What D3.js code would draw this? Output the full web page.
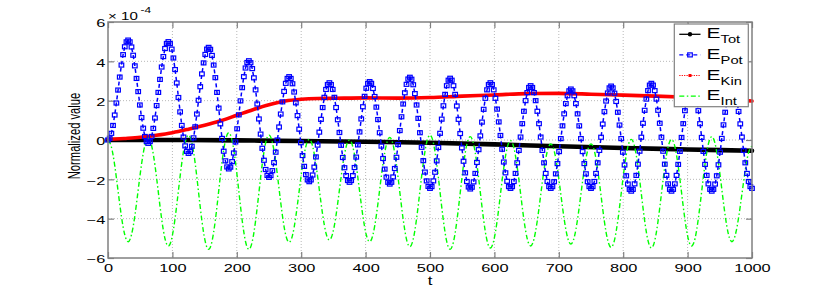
<!DOCTYPE html>
<html>
<head>
<meta charset="utf-8">
<script src="https://cdn.jsdelivr.net/npm/d3@7"></script>
<style>
  body { margin: 0; background: #fff; }
  svg { display: block; }
</style>
</head>
<body>
<script>
// ---- data (values in units of 1e-4) ----
var xTicks = [0, 100, 200, 300, 400, 500, 600, 700, 800, 900, 1000];
var yTicks = [-6, -4, -2, 0, 2, 4, 6];

// E_Tot, sampled coarsely
var tTot = [0, 100, 200, 300, 400, 500, 600, 700, 800, 900, 1000];
var eTot = [0, 0, -0.02, -0.05, -0.09, -0.14, -0.22, -0.32, -0.41, -0.48, -0.55];

// E_Kin
var tKin = [0, 25, 50, 75, 100, 125, 150, 175, 200, 225, 250, 275, 300, 325, 350, 400, 450, 500, 550, 600, 650, 700, 750, 800, 850, 900, 950, 1000];
var eKin = [0.03, 0.08, 0.14, 0.24, 0.37, 0.55, 0.75, 0.98, 1.26, 1.54, 1.79, 1.98, 2.07, 2.11, 2.12, 2.14, 2.13, 2.16, 2.23, 2.29, 2.36, 2.37, 2.33, 2.28, 2.23, 2.17, 2.08, 1.98];

// E_Pot, one row per oscillation (equally spaced in t from 0 to 1000)
var ePot = [
  0,0.09,0.34,0.74,1.27,1.88,2.54,3.20,3.81,4.34,4.74,4.99,5.08,4.99,4.73,4.31,3.77,3.13,2.46,1.78,1.14,0.60,0.18,-0.08,
  -0.17,-0.08,0.18,0.59,1.12,1.75,2.42,3.08,3.71,4.24,4.65,4.91,5.00,4.90,4.62,4.17,3.58,2.90,2.16,1.43,0.74,0.15,-0.30,-0.58,
  -0.68,-0.59,-0.32,0.11,0.67,1.32,2.02,2.71,3.36,3.92,4.35,4.62,4.71,4.61,4.30,3.81,3.17,2.42,1.62,0.82,0.08,-0.57,-1.06,-1.37,
  -1.47,-1.38,-1.10,-0.66,-0.10,0.57,1.28,1.99,2.66,3.22,3.66,3.94,4.03,3.93,3.63,3.16,2.55,1.83,1.07,0.30,-0.42,-1.03,-1.50,-1.80,
  -1.90,-1.81,-1.56,-1.15,-0.62,0.00,0.66,1.32,1.94,2.47,2.88,3.13,3.22,3.13,2.86,2.44,1.89,1.24,0.55,-0.14,-0.79,-1.34,-1.76,-2.03,
  -2.12,-2.03,-1.78,-1.38,-0.86,-0.26,0.40,1.05,1.65,2.17,2.57,2.82,2.91,2.82,2.57,2.17,1.65,1.03,0.38,-0.27,-0.89,-1.41,-1.81,-2.06,
  -2.15,-2.06,-1.81,-1.40,-0.87,-0.25,0.41,1.07,1.69,2.22,2.63,2.88,2.97,2.88,2.62,2.21,1.67,1.04,0.37,-0.31,-0.94,-1.48,-1.89,-2.15,
  -2.24,-2.15,-1.88,-1.45,-0.88,-0.23,0.48,1.18,1.83,2.40,2.83,3.10,3.19,3.09,2.81,2.36,1.78,1.10,0.37,-0.37,-1.05,-1.63,-2.08,-2.36,
  -2.46,-2.37,-2.08,-1.64,-1.06,-0.38,0.34,1.06,1.74,2.32,2.76,3.04,3.14,3.04,2.76,2.32,1.73,1.05,0.33,-0.40,-1.08,-1.67,-2.11,-2.39,
  -2.49,-2.40,-2.13,-1.70,-1.14,-0.49,0.21,0.91,1.56,2.12,2.55,2.82,2.91,2.82,2.55,2.12,1.57,0.92,0.23,-0.47,-1.12,-1.67,-2.10,-2.37,
  -2.46,-2.37,-2.11,-1.70,-1.16,-0.53,0.15,0.83,1.46,2.00,2.41,2.67,2.76,2.67,2.41,2.00,1.46,0.83,0.15,-0.53,-1.16,-1.70,-2.11,-2.37,
  -2.46,-2.37,-2.12,-1.72,-1.20,-0.59,0.07,0.72,1.33,1.85,2.25,2.50,2.59,2.50,2.25,1.85,1.33,0.72,0.07,-0.59,-1.20,-1.72,-2.12,-2.37,
  -2.46,-2.37,-2.11,-1.70,-1.16,-0.53,0.14,0.81,1.44,1.98,2.39,2.65,2.74,2.65,2.38,1.96,1.41,0.76,0.07,-0.62,-1.27,-1.82,-2.24,-2.51,
  -2.60,-2.51,-2.23,-1.80,-1.23,-0.57,0.14,0.85,1.51,2.08,2.51,2.79,2.88,2.79,2.51,2.08,1.51,0.85,0.14,-0.57,-1.23,-1.80,-2.23,-2.51,
  -2.60,-2.51,-2.23,-1.80,-1.24,-0.58,0.13,0.83,1.49,2.05,2.48,2.76,2.85,2.76,2.48,2.05,1.49,0.83,0.13,-0.58,-1.24,-1.80,-2.23,-2.51,
  -2.60,-2.51,-2.24,-1.82,-1.26,-0.62,0.08,0.77,1.41,1.97,2.39,2.66,2.75,2.66,2.40,1.99,1.45,0.82,0.15,-0.53,-1.16,-1.70,-2.11,-2.37,
  -2.46
];

// E_Int, one row per oscillation (equally spaced in t from 0 to 1000)
var eInt = [
  0,-0.35,-1.29,-2.59,-3.88,-4.82,-5.17,-4.82,-3.86,-2.54,-1.23,-0.26,
  0.09,-0.28,-1.28,-2.65,-4.02,-5.02,-5.39,-5.01,-3.98,-2.57,-1.16,-0.13,
  0.25,-0.14,-1.20,-2.66,-4.11,-5.17,-5.56,-5.16,-4.08,-2.60,-1.11,-0.03,
  0.37,-0.03,-1.11,-2.60,-4.08,-5.16,-5.56,-5.17,-4.11,-2.66,-1.20,-0.14,
  0.25,-0.12,-1.11,-2.48,-3.84,-4.84,-5.20,-4.85,-3.89,-2.59,-1.28,-0.32,
  0.03,-0.31,-1.25,-2.53,-3.80,-4.74,-5.08,-4.74,-3.81,-2.54,-1.27,-0.34,
  0,-0.35,-1.29,-2.59,-3.88,-4.82,-5.17,-4.81,-3.84,-2.52,-1.19,-0.23,
  0.13,-0.24,-1.26,-2.65,-4.03,-5.05,-5.42,-5.04,-4.00,-2.59,-1.17,-0.13,
  0.25,-0.14,-1.20,-2.66,-4.11,-5.17,-5.56,-5.18,-4.13,-2.70,-1.26,-0.21,
  0.17,-0.21,-1.25,-2.66,-4.08,-5.11,-5.49,-5.12,-4.13,-2.76,-1.40,-0.40,
  -0.03,-0.39,-1.37,-2.71,-4.05,-5.03,-5.39,-5.04,-4.09,-2.80,-1.50,-0.55,
  -0.20,-0.54,-1.47,-2.75,-4.02,-4.95,-5.29,-4.95,-4.02,-2.75,-1.47,-0.54,
  -0.20,-0.55,-1.52,-2.83,-4.15,-5.11,-5.46,-5.09,-4.09,-2.72,-1.34,-0.34,
  0.03,-0.34,-1.35,-2.73,-4.11,-5.12,-5.49,-5.12,-4.11,-2.73,-1.35,-0.34,
  0.03,-0.33,-1.33,-2.68,-4.04,-5.03,-5.39,-5.02,-4.00,-2.61,-1.22,-0.20,
  0.17,-0.19,-1.17,-2.50,-3.84,-4.81,-5.17,-4.84,-3.95,-2.74,-1.52,-0.63,
  -0.30
];

var legendNames = ["Tot", "Pot", "Kin", "Int"];

(function() {
  // sample times of the oscillating series
  var tPot = d3.range(ePot.length).map(function(i) { return i * 1000 / (ePot.length - 1); });
  var tInt = d3.range(eInt.length).map(function(i) { return i * 1000 / (eInt.length - 1); });

  // ---- layout ----
  var width = 830, height = 291;
  var pL = 108, pR = 752, pT = 22, pB = 258;
  var SX = 1.4; // the figure is stretched sideways, text too
  var FONT = '"Liberation Sans", Arial, Helvetica, sans-serif';
  var AX = "#808080";

  var x = d3.scaleLinear().domain([0, 1000]).range([pL, pR]);
  var y = d3.scaleLinear().domain([-6, 6]).range([pB, pT]);

  var svg = d3.select("body").append("svg")
      .attr("width", width)
      .attr("height", height)
      .style("font-family", FONT);

  // grid
  svg.append("g").selectAll("line")
      .data(xTicks.slice(1, -1))
    .join("line")
      .attr("x1", function(d) { return x(d); })
      .attr("x2", function(d) { return x(d); })
      .attr("y1", pT).attr("y2", pB)
      .attr("stroke", "#b8b8b8")
      .attr("stroke-dasharray", "1,2");
  svg.append("g").selectAll("line")
      .data(yTicks.slice(1, -1))
    .join("line")
      .attr("y1", function(d) { return y(d); })
      .attr("y2", function(d) { return y(d); })
      .attr("x1", pL).attr("x2", pR)
      .attr("stroke", "#b8b8b8")
      .attr("stroke-dasharray", "1,2");

  // axes (ticks pointing inward)
  var fmt = d3.format("d");
  var axB = svg.append("g").attr("transform", "translate(0," + pB + ")")
      .call(d3.axisBottom(x).tickValues(xTicks).tickSize(-6).tickFormat(fmt));
  var axL = svg.append("g").attr("transform", "translate(" + pL + ",0)")
      .call(d3.axisLeft(y).tickValues(yTicks).tickSize(-6).tickFormat(fmt));
  var axT = svg.append("g").attr("transform", "translate(0," + pT + ")")
      .call(d3.axisTop(x).tickValues(xTicks).tickSize(-6).tickFormat(""));
  var axR = svg.append("g").attr("transform", "translate(" + pR + ",0)")
      .call(d3.axisRight(y).tickValues(yTicks).tickSize(-6).tickFormat(""));

  [axB, axL, axT, axR].forEach(function(a) {
    a.attr("font-family", FONT).attr("font-size", 11.7);
    a.select(".domain").remove();
    a.selectAll(".tick line").attr("stroke", AX).attr("stroke-width", 1.2);
  });
  axB.selectAll("text")
      .attr("y", 14.2).attr("dy", null)
      .attr("fill", "#000")
      .attr("transform", "scale(" + SX + ",1)");
  axL.selectAll("text")
      .attr("x", -1.8).attr("dy", "0.42em")
      .attr("fill", "#000")
      .attr("transform", "scale(" + SX + ",1)");

  // series
  var lineOf = function(ts, curve) {
    return d3.line()
      .x(function(d, i) { return x(ts[i]); })
      .y(function(d) { return y(d); })
      .curve(curve);
  };

  svg.append("path")
      .attr("d", lineOf(tTot, d3.curveMonotoneX)(eTot))
      .attr("fill", "none")
      .attr("stroke", "#000")
      .attr("stroke-width", 4.6)
      .attr("stroke-linecap", "round");

  svg.append("path")
      .attr("d", lineOf(tKin, d3.curveMonotoneX)(eKin))
      .attr("fill", "none")
      .attr("stroke", "#ff0000")
      .attr("stroke-width", 3.6)
      .attr("stroke-linecap", "round");

  svg.append("path")
      .attr("d", lineOf(tInt, d3.curveNatural)(eInt))
      .attr("fill", "none")
      .attr("stroke", "#00ff00")
      .attr("stroke-width", 1.4)
      .attr("stroke-dasharray", "5,2.5,1.5,2.5");

  svg.append("path")
      .attr("d", lineOf(tPot, d3.curveLinear)(ePot))
      .attr("fill", "none")
      .attr("stroke", "#0000ff")
      .attr("stroke-width", 1.5)
      .attr("stroke-dasharray", "4,3");
  svg.append("g").selectAll("rect")
      .data(ePot)
    .join("rect")
      .attr("x", function(d, i) { return x(tPot[i]) - 2.3; })
      .attr("y", function(d) { return y(d) - 2; })
      .attr("width", 4.6)
      .attr("height", 4)
      .attr("fill", "none")
      .attr("stroke", "#0000ff")
      .attr("stroke-width", 1.2);

  // box
  svg.append("rect")
      .attr("x", pL).attr("y", pT)
      .attr("width", pR - pL).attr("height", pB - pT)
      .attr("fill", "none")
      .attr("stroke", AX)
      .attr("stroke-width", 1.5);

  // scale factor and labels
  svg.append("text")
      .attr("transform", "translate(108,20) scale(" + SX + ",1)")
      .attr("font-size", 10.8)
      .text("\u00d7 10");
  svg.append("text")
      .attr("transform", "translate(140.5,13.3) scale(" + SX + ",1)")
      .attr("font-size", 8.5)
      .text("-4");
  svg.append("text")
      .attr("transform", "translate(430,284.5) scale(" + SX + ",1)")
      .attr("text-anchor", "middle")
      .attr("font-size", 12)
      .text("t");
  svg.append("text")
      .attr("transform", "translate(80,136) scale(" + SX + ",1) rotate(-90)")
      .attr("text-anchor", "middle")
      .attr("font-size", 11.2)
      .text("Normalized value");

  // legend
  var lg = svg.append("g");
  lg.append("rect")
      .attr("x", 674.3).attr("y", 24)
      .attr("width", 74).attr("height", 82.7)
      .attr("fill", "#fff")
      .attr("stroke", AX)
      .attr("stroke-width", 1.2);

  var rowY = function(i) { return 34.3 + i * 20.6; };
  var styles = [
    { color: "#000", dash: null, w: 1.3 },
    { color: "#0000ff", dash: "4,3", w: 1.3 },
    { color: "#ff0000", dash: "1.2,1.2", w: 1.2 },
    { color: "#00ff00", dash: "5,2.5,1.5,2.5", w: 1.3 }
  ];
  legendNames.forEach(function(name, i) {
    var s = styles[i], yy = rowY(i);
    lg.append("line")
        .attr("x1", 679.3).attr("x2", 700.5)
        .attr("y1", yy).attr("y2", yy)
        .attr("stroke", s.color)
        .attr("stroke-width", s.w)
        .attr("stroke-dasharray", s.dash);
    if (i === 0) {
      lg.append("circle").attr("cx", 690).attr("cy", yy).attr("r", 2.2).attr("fill", "#000");
    } else if (i === 1) {
      lg.append("rect").attr("x", 687.7).attr("y", yy - 2).attr("width", 4.6).attr("height", 4)
          .attr("fill", "none").attr("stroke", "#0000ff").attr("stroke-width", 1.2);
    } else if (i === 2) {
      lg.append("rect").attr("x", 688.5).attr("y", yy - 1.5).attr("width", 3).attr("height", 3)
          .attr("fill", "#ff0000");
    }
    var t = lg.append("text")
        .attr("transform", "translate(706.6," + (yy + 4) + ") scale(" + SX + ",1)");
    t.append("tspan").attr("font-size", 15).text("E");
    t.append("tspan").attr("font-size", 10.5).attr("dy", 5).text(name);
  });
})();
</script>
</body>
</html>
